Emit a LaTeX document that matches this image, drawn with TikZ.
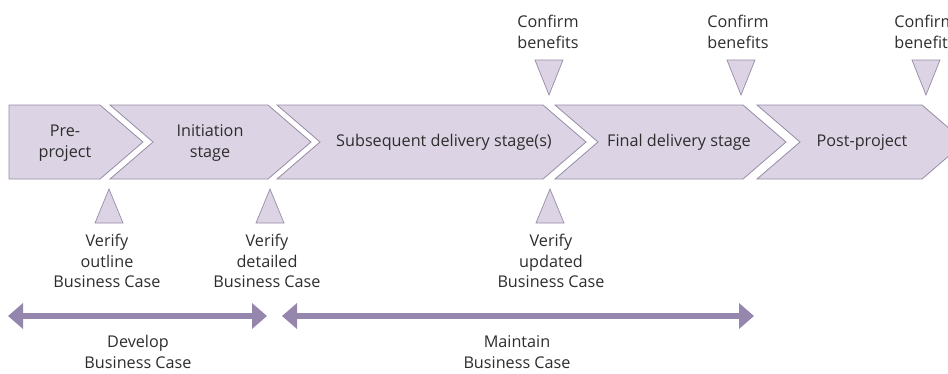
\documentclass[tikz,border=0pt]{standalone}
\usepackage{fontspec}
\setmainfont{Open Sans}
\usetikzlibrary{arrows.meta}
\begin{document}
\begin{tikzpicture}[x=1pt,y=-1pt,
  chevfill/.style={fill=chevbg,draw=chevline,line width=0.8pt,line join=miter},
  tri/.style={fill=chevbg,draw=chevline,line width=0.7pt},
  lbl/.style={text=txt,font=\fontsize{16.2}{20.5}\selectfont,align=center,inner sep=0pt},
  darrow/.style={draw=arrowc,line width=6.5pt,{Triangle[length=15pt,width=25pt]}-{Triangle[length=15pt,width=25pt]}}
]
\definecolor{chevbg}{RGB}{220,212,228}
\definecolor{chevline}{RGB}{150,140,165}
\definecolor{arrowc}{RGB}{148,134,172}
\definecolor{txt}{RGB}{45,45,45}
\useasboundingbox (0,0) rectangle (948,373);
\clip (0,0) rectangle (948,373);
% chevrons
\draw[chevfill] (9,105) -- (100,105) -- (143,142) -- (100,179) -- (9,179) -- cycle;
\draw[chevfill] (110,105) -- (268,105) -- (311,142) -- (268,179) -- (110,179) -- (153,142) -- cycle;
\draw[chevfill] (277,105) -- (543,105) -- (586,142) -- (543,179) -- (277,179) -- (320,142) -- cycle;
\draw[chevfill] (555,105) -- (743,105) -- (786,142) -- (743,179) -- (555,179) -- (598,142) -- cycle;
\draw[chevfill] (757,105) -- (922,105) -- (965,142) -- (922,179) -- (757,179) -- (800,142) -- cycle;
% stage labels
\node[lbl] (pre) at (65,143) {Pre-\\project};
\node[lbl] (init) at (210,143) {Initiation\\stage};
\node[lbl] (subs) at (444,142) {Subsequent delivery stage(s)};
\node[lbl] (final) at (679,142) {Final delivery stage};
\node[lbl] (post) at (862,142) {Post-project};
% confirm benefits (top)
\node[lbl] (cb1) at (548,32) {Confirm\\benefits};
\node[lbl] (cb2) at (738,32) {Confirm\\benefits};
\node[lbl] (cb3) at (925,32) {Confirm\\benefits};
\draw[tri] (535,60) -- (563,60) -- (549,95) -- cycle;
\draw[tri] (727,60) -- (755,60) -- (741,95) -- cycle;
\draw[tri] (912,60) -- (940,60) -- (926,95) -- cycle;
% verify (bottom)
\draw[tri] (95,223) -- (123,223) -- (109,189) -- cycle;
\draw[tri] (256,223) -- (284,223) -- (270,189) -- cycle;
\draw[tri] (536,223) -- (564,223) -- (550,189) -- cycle;
\node[lbl] (v1) at (107,261) {Verify\\outline\\Business Case};
\node[lbl] (v2) at (267,261) {Verify\\detailed\\Business Case};
\node[lbl] (v3) at (551,261) {Verify\\updated\\Business Case};
% business case arrows
\coordinate (devL) at (8,316);
\coordinate (devR) at (267,316);
\coordinate (mainL) at (282,316);
\coordinate (mainR) at (754,316);
\draw[darrow] (devL) -- (devR);
\draw[darrow] (mainL) -- (mainR);
\node[lbl] (dev) at (138,352) {Develop\\Business Case};
\node[lbl] (maint) at (517,352) {Maintain\\Business Case};
\end{tikzpicture}
\end{document}
